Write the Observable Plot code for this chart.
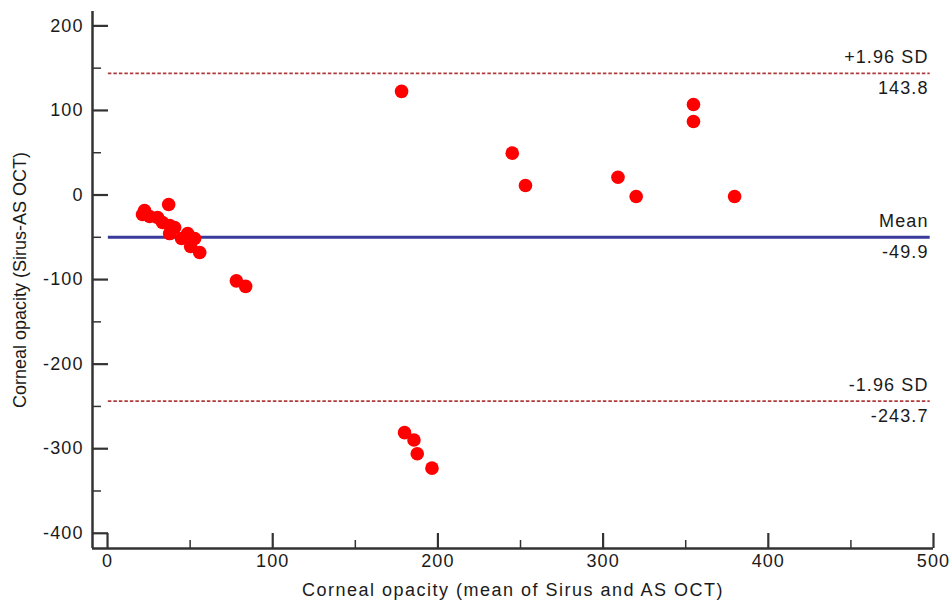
<!DOCTYPE html>
<html>
<head>
<meta charset="utf-8">
<script src="https://cdn.jsdelivr.net/npm/d3@7"></script>
<script src="https://cdn.jsdelivr.net/npm/@observablehq/plot@0.6"></script>
<style>
  html, body { margin: 0; padding: 0; background: #fff; }
  svg { display: block; }
</style>
</head>
<body>
<div id="chart"></div>
<script>
// Bland-Altman data: x = mean of Sirus and AS OCT, y = difference (Sirus - AS OCT)
const meanValues = [22.4, 21.2, 25.5, 37, 30.3, 33.3, 37.6, 40.6, 37.6, 44.8, 48.5, 52.7, 50.3, 55.8,
                    78, 83.6, 178, 245, 253, 309, 320, 354.7, 354.7, 379.6,
                    179.8, 185.5, 187.5, 196.4];
const diffValues = [-18.3, -23, -25.4, -11.2, -26.6, -32.5, -36, -38.5, -45.6, -51.5, -45.6, -51.5, -60.9, -68,
                    -101.5, -108, 122.5, 49.5, 11.2, 21, -1.8, 107, 87, -1.8,
                    -281, -289.7, -306, -323];
const meanDiff = -49.9;
const upperLimit = 143.8;
const lowerLimit = -243.7;
const refLabelsAbove = ["+1.96 SD", "Mean", "-1.96 SD"];
const refValues = [upperLimit, meanDiff, lowerLimit];
const refLabelsBelow = ["143.8", "-49.9", "-243.7"];
const xMajorTicks = [0, 100, 200, 300, 400, 500];
const xMinorTicks = [50, 150, 250, 350, 450];
const yMajorTicks = [200, 100, 0, -100, -200, -300, -400];
const yMinorTicks = [150, 50, -50, -150, -250, -350];
const xTitle = "Corneal opacity (mean of Sirus and AS OCT)";
const yTitle = "Corneal opacity (Sirus-AS OCT)";

const points = meanValues.map((x, i) => ({x, y: diffValues[i]}));
const refs = refValues.map((v, i) => ({v, above: refLabelsAbove[i], below: refLabelsBelow[i], dashed: i !== 1}));

const axisColor = "#333";
const textColor = "#1a1a1a";
const font = "'Liberation Sans', Arial, sans-serif";

const chart = Plot.plot({
  width: 949,
  height: 604,
  marginLeft: 92,
  marginRight: 16,
  marginTop: 11,
  marginBottom: 56,
  style: {fontFamily: font, fontSize: "18px", color: textColor, background: "#fff"},
  x: {domain: [-9.1, 500]},
  y: {domain: [-418, 217]},
  marks: [
    // reference lines
    Plot.ruleY(refs.filter(d => d.dashed), {y: "v", x1: 0.5, x2: 498, stroke: "#b03a3a", strokeWidth: 1.6, strokeDasharray: "3.5,2"}),
    Plot.ruleY(refs.filter(d => !d.dashed), {y: "v", x1: 0.5, x2: 498, stroke: "#3a3a9c", strokeWidth: 3}),
    // points
    Plot.dot(points, {x: "x", y: "y", r: 6.8, fill: "#ff0000", stroke: "none"}),
    // reference labels
    Plot.text(refs, {y: "v", text: "above", frameAnchor: "right", textAnchor: "end", lineAnchor: "middle", dx: -5, dy: -16, fontSize: 18, fill: textColor}),
    Plot.text(refs, {y: "v", text: "below", frameAnchor: "right", textAnchor: "end", lineAnchor: "middle", dx: -5, dy: 15, fontSize: 18, fill: textColor}),
    // axis lines
    Plot.ruleX([-9.1], {stroke: axisColor, strokeWidth: 2.5}),
    Plot.ruleY([-418], {stroke: axisColor, strokeWidth: 2.5}),
    // tick marks (inward)
    Plot.axisY({ticks: yMajorTicks, tickSize: -16, tickFormat: () => "", stroke: axisColor, strokeWidth: 2.2, label: null}),
    Plot.axisY({ticks: yMinorTicks, tickSize: -9, tickFormat: () => "", stroke: axisColor, strokeWidth: 1.5, label: null}),
    Plot.axisX({ticks: xMajorTicks, tickSize: -15, tickFormat: () => "", stroke: axisColor, strokeWidth: 2.2, label: null}),
    Plot.axisX({ticks: xMinorTicks, tickSize: -8, tickFormat: () => "", stroke: axisColor, strokeWidth: 1.5, label: null}),
    // tick labels
    Plot.axisY({ticks: yMajorTicks, tickSize: 0, tickPadding: 9, tickFormat: d => String(d), fontSize: 18, fill: textColor, label: null}),
    Plot.axisX({ticks: xMajorTicks, tickSize: 0, tickPadding: 6, tickFormat: d => String(d), fontSize: 18, fill: textColor, label: null}),
    // axis titles
    Plot.text([xTitle], {frameAnchor: "bottom", lineAnchor: "middle", dy: 42, fontSize: 18, fill: textColor}),
    Plot.text([yTitle], {frameAnchor: "left", textAnchor: "middle", lineAnchor: "middle", dx: -72, rotate: -90, fontSize: 18, fill: textColor})
  ]
});

// the reference's horizontal text is slightly wider than plain Arial
d3.select(chart).selectAll("text").attr("letter-spacing", "1.1px");
d3.select(chart).selectAll("text").filter(function () { return this.textContent === yTitle; }).attr("letter-spacing", null);
d3.select(chart).selectAll("text").filter(function () { return this.textContent === xTitle; }).attr("letter-spacing", "1.5px");

document.getElementById("chart").appendChild(chart);
</script>
</body>
</html>
